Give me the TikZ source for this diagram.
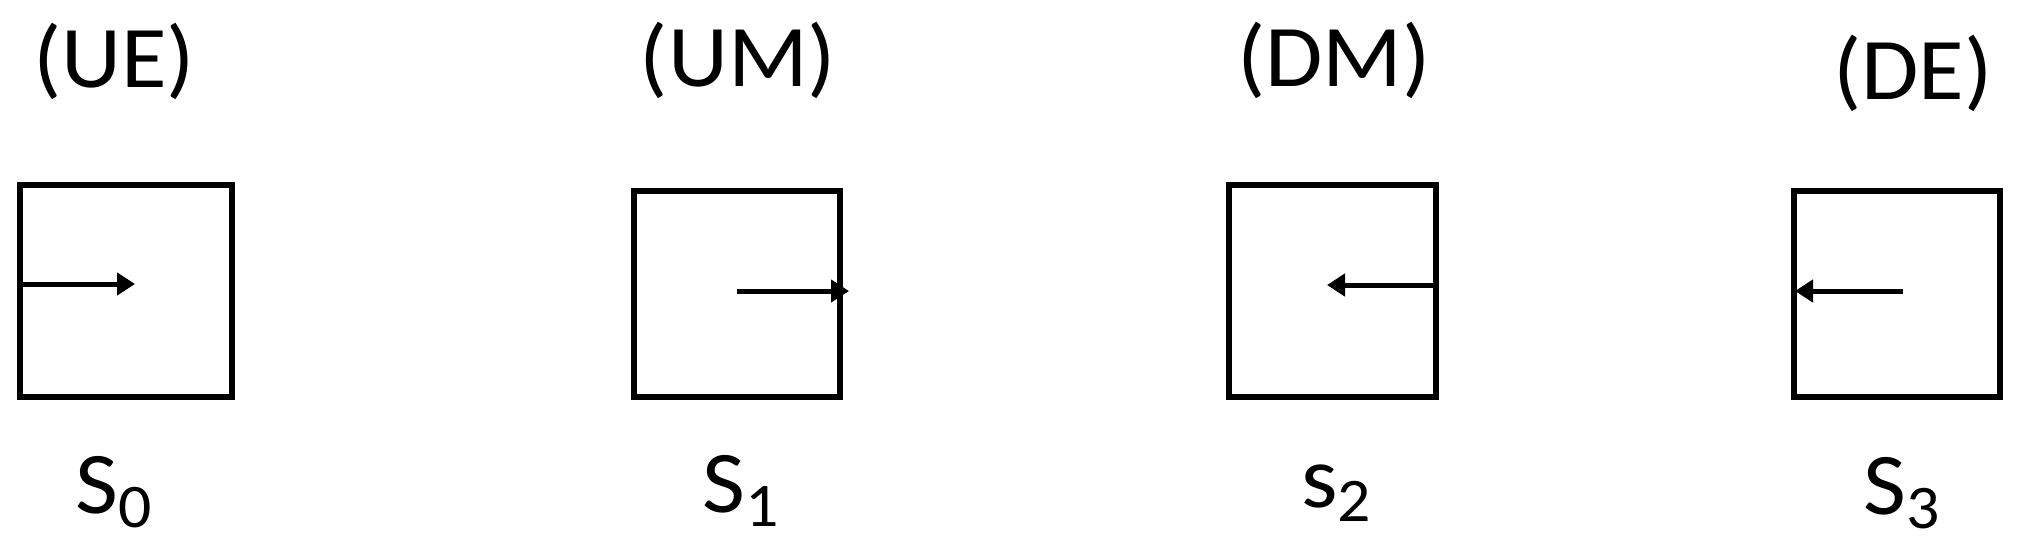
\documentclass[tikz,border=0pt]{standalone}
\usepackage{fontspec}
\setmainfont[FakeStretch=1.06]{Carlito}
\usetikzlibrary{arrows.meta}
\newcommand\mysub[1]{\raisebox{-7pt}{\fontsize{31}{34}\selectfont #1}}
\begin{document}
\begin{tikzpicture}[x=0.5pt,y=-0.5pt,
  statebox/.style={draw=black, line width=3pt, inner sep=0pt, fill=none},
  toplabel/.style={inner sep=0pt, anchor=base, font=\fontsize{44}{50}\selectfont},
  sublabel/.style={inner sep=0pt, anchor=base west, font=\fontsize{44}{50}\selectfont},
  dirarrow/.style={line width=2.5pt, -{Triangle[length=9pt,width=11pt]}}]
\useasboundingbox[fill=white] (0,0) rectangle (2026,548);
% boxes
\node[statebox, minimum width=106pt, minimum height=106pt] (b0) at (126,291) {};
\node[statebox, minimum width=103pt, minimum height=103pt] (b1) at (737,294) {};
\node[statebox, minimum width=103.5pt, minimum height=106pt] (b2) at (1332.5,291) {};
\node[statebox, minimum width=103pt, minimum height=103pt] (b3) at (1897,294) {};
% top labels
\node[toplabel] (t0) at (114,87) {(UE)};
\node[toplabel] (t1) at (738,86) {(UM)};
\node[toplabel] (t2) at (1334,86) {(DM)};
\node[toplabel] (t3) at (1913,99) {(DE)};
% bottom labels
\node[sublabel] (s0) at (75,513) {S\mysub{0}};
\node[sublabel] (s1) at (702,512) {S\mysub{1}};
\node[sublabel] (s2) at (1301,507) {s\mysub{2}};
\node[sublabel] (s3) at (1863,514) {S\mysub{3}};
% arrows
\coordinate (a0s) at (20,284);
\coordinate (a0e) at (135,284);
\coordinate (a1s) at (737,291);
\coordinate (a1e) at (849,291);
\coordinate (a2s) at (1436,285);
\coordinate (a2e) at (1327,285);
\coordinate (a3s) at (1903,291);
\coordinate (a3e) at (1795,291);
\draw[dirarrow] (a0s) -- (a0e);
\draw[dirarrow] (a1s) -- (a1e);
\draw[dirarrow] (a2s) -- (a2e);
\draw[dirarrow] (a3s) -- (a3e);
\end{tikzpicture}
\end{document}
